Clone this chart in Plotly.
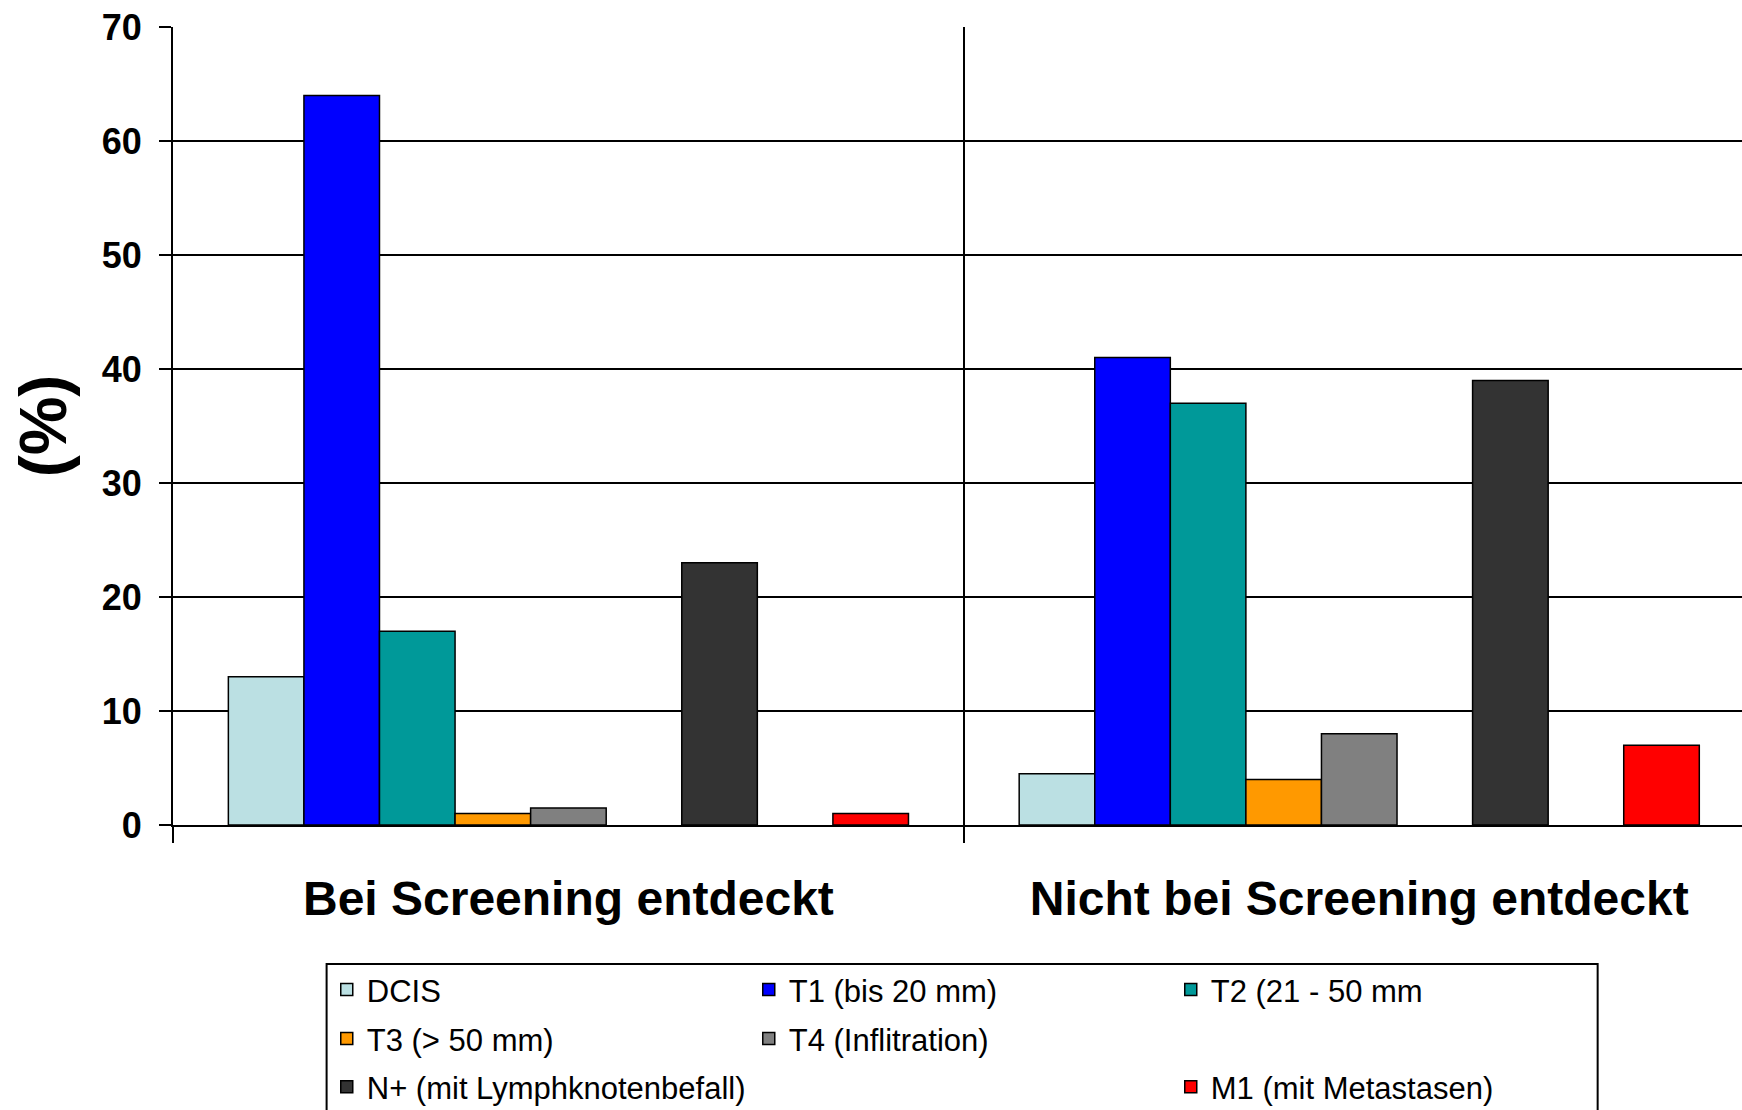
import plotly.graph_objects as go

# Tumour stage distribution by detection route
categories = ["Bei Screening entdeckt", "Nicht bei Screening entdeckt"]

series_names = [
    "DCIS",
    "T1 (bis 20 mm)",
    "T2 (21 - 50 mm",
    "T3 (> 50 mm)",
    "T4 (Inflitration)",
    "",
    "N+ (mit Lymphknotenbefall)",
    "",
    "M1 (mit Metastasen)",
]

dcis = [13, 4.5]
t1 = [64, 41]
t2 = [17, 37]
t3 = [1, 4]
t4 = [1.5, 8]
spacer_a = [None, None]
n_plus = [23, 39]
spacer_b = [None, None]
m1 = [1, 7]

series_values = [dcis, t1, t2, t3, t4, spacer_a, n_plus, spacer_b, m1]

series_colors = [
    "#BBE0E3",
    "#0000FF",
    "#009999",
    "#FF9900",
    "#808080",
    "rgba(0,0,0,0)",
    "#333333",
    "rgba(0,0,0,0)",
    "#FF0000",
]

# legend rows: three entries per row
legend_rows = ["legend", "legend", "legend",
               "legend2", "legend2", "legend2",
               "legend3", "legend3", "legend3"]

y_ticks = [0, 10, 20, 30, 40, 50, 60, 70]

FONT = "Liberation Sans, Arial, sans-serif"

fig = go.Figure()
for name, vals, col, lg in zip(series_names, series_values, series_colors, legend_rows):
    blank = name == ""
    fig.add_trace(
        go.Bar(
            x=categories,
            y=vals,
            name=name,
            legend=lg,
            marker=dict(
                color=col,
                line=dict(color="black", width=0 if blank else 1.5),
            ),
            showlegend=True,
            hoverinfo="skip" if blank else None,
        )
    )

legend_style = dict(
    orientation="h",
    x=0.098,
    xanchor="left",
    yanchor="top",
    borderwidth=0,
    bgcolor="rgba(0,0,0,0)",
    font=dict(family=FONT, size=31, color="black"),
    entrywidth=377,
    traceorder="normal",
    itemclick=False,
)

fig.update_layout(
    width=1742,
    height=1110,
    margin=dict(l=173, r=0, t=27, b=285, autoexpand=False),
    paper_bgcolor="white",
    plot_bgcolor="white",
    barmode="group",
    bargap=0.14,
    bargroupgap=0,
    font=dict(family=FONT, color="black"),
    legend=dict(legend_style, y=-0.1729),
    legend2=dict(legend_style, y=-0.2343),
    legend3=dict(legend_style, y=-0.2945),
    shapes=[
        # frame around the legend rows
        dict(
            type="rect",
            xref="paper",
            yref="paper",
            x0=0.0979,
            x1=0.908,
            y0=-0.1742,
            y1=-0.40,
            line=dict(color="black", width=2),
            fillcolor="rgba(0,0,0,0)",
            layer="below",
        )
    ],
)

fig.update_xaxes(
    type="category",
    range=[-0.5, 1.484],
    tickson="boundaries",
    ticks="outside",
    ticklen=16,
    tickwidth=2,
    tickcolor="black",
    showgrid=True,
    gridcolor="black",
    gridwidth=2,
    showline=True,
    linecolor="black",
    linewidth=2,
    tickfont=dict(family=FONT, size=48, color="black", weight="bold"),
    ticklabelstandoff=30,
    automargin=False,
)

fig.update_yaxes(
    range=[0, 70],
    tickvals=y_ticks,
    ticks="outside",
    ticklen=12,
    tickwidth=2,
    tickcolor="black",
    showgrid=True,
    gridcolor="black",
    gridwidth=2,
    showline=True,
    linecolor="black",
    linewidth=2,
    zeroline=False,
    tickfont=dict(family=FONT, size=36, color="black", weight="bold"),
    ticklabelstandoff=10,
    title=dict(
        text="(%)",
        font=dict(family=FONT, size=66, color="black", weight="bold"),
        standoff=14,
    ),
    automargin=False,
)

fig.write_html("out.html")
